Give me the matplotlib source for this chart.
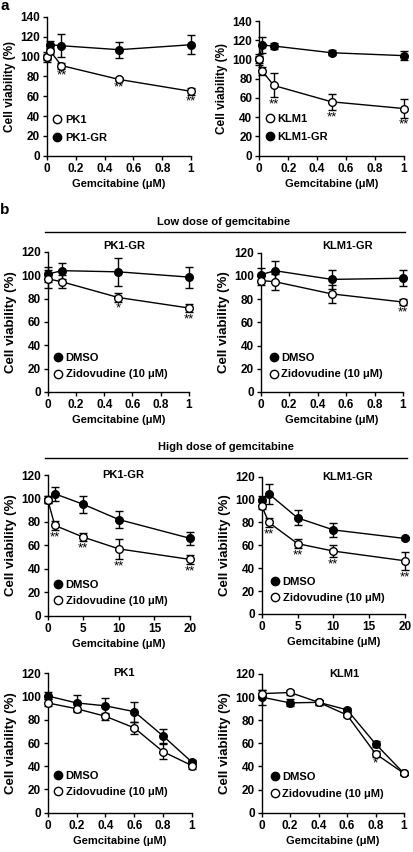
import matplotlib
matplotlib.use("Agg")
import matplotlib.pyplot as plt
from matplotlib.lines import Line2D

plt.rcParams['font.family'] = ['Liberation Sans', 'DejaVu Sans']
plt.rcParams['font.weight'] = 'bold'
plt.rcParams['font.size'] = 8

W, H = 413, 852

# ---------------- data ----------------
# Panel a
a_x = [0, 0.02, 0.1, 0.5, 1]
a1_open = [100, 106, 91, 77, 65]          # PK1
a1_open_err = [3, 3, 3, 1.5, 3.5]
a1_fill = [100, 112, 111, 107, 112]       # PK1-GR
a1_fill_err = [5, 4, 11.5, 8, 9.5]
a1_stars = ['', '', '**', '**', '**']

a2_open = [100, 88, 73, 56, 49]           # KLM1
a2_open_err = [6, 4, 12.5, 8.5, 9.5]
a2_fill = [100, 115, 114, 107, 104]       # KLM1-GR
a2_fill_err = [4, 8, 3, 2.5, 5]
a2_stars = ['', '', '**', '**', '**']

# Panel b - low dose
low_x = [0, 0.1, 0.5, 1]
b1_dmso = [101, 104, 103, 98.5]
b1_dmso_err = [6.5, 7, 12, 9]
b1_zdv = [97, 94.5, 81, 72]
b1_zdv_err = [8, 5.5, 3.5, 3.5]
b1_stars = ['', '', '*', '**']

b2_dmso = [101, 104.5, 97, 98]
b2_dmso_err = [6, 8.5, 8.5, 7]
b2_zdv = [96, 95, 84.5, 77.5]
b2_zdv_err = [4, 7, 7.5, 2.5]
b2_stars = ['', '', '', '**']

# Panel b - high dose
high_x = [0, 1, 5, 10, 20]
c1_dmso = [99, 104, 95, 82, 66]
c1_dmso_err = [3, 6, 7, 7.5, 5.5]
c1_zdv = [99, 77, 67, 57, 48]
c1_zdv_err = [3, 4, 3.5, 8.5, 4]
c1_stars = ['', '**', '**', '**', '**']

c2_dmso = [99.5, 105, 84, 73.5, 66]
c2_dmso_err = [4, 8.5, 6.5, 6, 1.5]
c2_zdv = [94.5, 80, 61.5, 55, 46.5]
c2_zdv_err = [3, 4, 4, 5.5, 8]
c2_stars = ['', '**', '**', '**', '**']

# Panel b - parental
par_x = [0, 0.2, 0.4, 0.6, 0.8, 1]
d1_dmso = [100.5, 94.5, 92, 87, 66, 43.5]
d1_dmso_err = [3, 7, 7, 8.5, 6, 2]
d1_zdv = [94.5, 89.5, 83, 73, 52.5, 40.5]
d1_zdv_err = [3, 3, 3, 5, 6.5, 3]

d2_dmso = [100, 95, 95.5, 89, 59.5, 34]
d2_dmso_err = [6.5, 3, 2, 2, 2.5, 1.5]
d2_zdv = [103, 104, 95.5, 84.5, 51, 34]
d2_zdv_err = [3, 2, 2, 2, 2.5, 1.5]
d2_stars = ['', '', '', '', '*', '']

fig = plt.figure(figsize=(W / 100, H / 100), dpi=100)


def make_ax(x0, x1, ytop, ybot):
    return fig.add_axes([x0 / W, 1 - ybot / H, (x1 - x0) / W, (ybot - ytop) / H])


def style(ax, xlim, xticks, xticklabels, ylim, yticks, ylab_size=8):
    ax.set_xlim(*xlim)
    ax.set_ylim(*ylim)
    ax.set_xticks(xticks)
    ax.set_xticklabels(xticklabels)
    ax.set_yticks(yticks)
    for s in ['top', 'right']:
        ax.spines[s].set_visible(False)
    for s in ['left', 'bottom']:
        ax.spines[s].set_linewidth(1.0)
    ax.tick_params(direction='out', length=3, width=1.0, labelsize=8.5, pad=2)
    for lab in ax.get_xticklabels() + ax.get_yticklabels():
        lab.set_fontweight('bold')
    ax.set_ylabel('Cell viability (%)', fontsize=ylab_size, fontweight='bold', labelpad=3)
    ax.set_xlabel('Gemcitabine (\u03bcM)', fontsize=8, fontweight='bold', labelpad=3)


def series(ax, x, y, e, filled, z):
    ax.errorbar(x, y, yerr=e, color='black', lw=1.0, elinewidth=1.0, capsize=3,
                capthick=1.0, marker='o', ms=5.5, mew=1.0,
                mfc='black' if filled else 'white', mec='black',
                clip_on=False, zorder=z)


def stars(ax, x, y, e, s, off):
    for xi, yi, ei, si in zip(x, y, e, s):
        if si:
            ax.text(xi, yi - ei - off, si, ha='center', va='top', fontsize=9.5,
                    fontweight='normal')


def legend(ax, labels, first_filled, anchor, spacing):
    fills = ['black', 'white'] if first_filled else ['white', 'black']
    hs = [Line2D([], [], ls='none', marker='o', ms=6, mew=1.0, mec='black', mfc=f)
          for f in fills]
    ax.legend(hs, labels, loc='lower left', bbox_to_anchor=anchor, frameon=False,
              handlelength=0.8, handletextpad=0.3, borderpad=0, borderaxespad=0,
              labelspacing=spacing, prop={'weight': 'bold', 'size': 8})


T1 = [0, 0.2, 0.4, 0.6, 0.8, 1]
T1L = ['0', '0.2', '0.4', '0.6', '0.8', '1']

# ---- Panel a left ----
ax = make_ax(47, 191, 17, 155.7)
series(ax, a_x, a1_fill, a1_fill_err, True, 3)
series(ax, a_x, a1_open, a1_open_err, False, 4)
stars(ax, a_x, a1_open, a1_open_err, a1_stars, 1)
style(ax, (0, 1), T1, T1L, (0, 140), range(0, 141, 20), 8.5)
legend(ax, ['PK1', 'PK1-GR'], False, (0.04, 0.09), 0.75)

# ---- Panel a right ----
ax = make_ax(259.3, 404, 21, 155.7)
series(ax, a_x, a2_fill, a2_fill_err, True, 3)
series(ax, a_x, a2_open, a2_open_err, False, 4)
stars(ax, a_x, a2_open, a2_open_err, a2_stars, 1)
style(ax, (0, 1), T1, T1L, (0, 140), range(0, 141, 20), 8.5)
legend(ax, ['KLM1', 'KLM1-GR'], False, (0.04, 0.10), 0.75)

YB = 9.5

# ---- Low dose ----
ax = make_ax(47.7, 189, 252, 392)
series(ax, low_x, b1_dmso, b1_dmso_err, True, 3)
series(ax, low_x, b1_zdv, b1_zdv_err, False, 4)
stars(ax, low_x, b1_zdv, b1_zdv_err, b1_stars, 1)
style(ax, (0, 1), T1, T1L, (0, 120), range(0, 121, 20), YB)
ax.text(0.54, 1.04, 'PK1-GR', transform=ax.transAxes, ha='center', va='center',
        fontsize=8, fontweight='bold')
legend(ax, ['DMSO', 'Zidovudine (10 \u03bcM)'], True, (0.04, 0.09), 0.55)

ax = make_ax(260.7, 403, 252.7, 392)
series(ax, low_x, b2_dmso, b2_dmso_err, True, 3)
series(ax, low_x, b2_zdv, b2_zdv_err, False, 4)
stars(ax, low_x, b2_zdv, b2_zdv_err, b2_stars, 1)
style(ax, (0, 1), T1, T1L, (0, 120), range(0, 121, 20), YB)
ax.text(0.61, 1.045, 'KLM1-GR', transform=ax.transAxes, ha='center', va='center',
        fontsize=8, fontweight='bold')
legend(ax, ['DMSO', 'Zidovudine (10 \u03bcM)'], True, (0.06, 0.09), 0.55)

# ---- High dose ----
ax = make_ax(47.7, 190, 475, 615.7)
series(ax, high_x, c1_dmso, c1_dmso_err, True, 3)
series(ax, high_x, c1_zdv, c1_zdv_err, False, 4)
stars(ax, high_x, c1_zdv, c1_zdv_err, c1_stars, 1)
style(ax, (0, 20), [0, 5, 10, 15, 20], ['0', '5', '10', '15', '20'],
      (0, 120), range(0, 121, 20), YB)
ax.text(0.53, 1.0, 'PK1-GR', transform=ax.transAxes, ha='center', va='center',
        fontsize=8, fontweight='bold')
legend(ax, ['DMSO', 'Zidovudine (10 \u03bcM)'], True, (0.04, 0.07), 0.55)

ax = make_ax(261.7, 405, 476.7, 614)
series(ax, high_x, c2_dmso, c2_dmso_err, True, 3)
series(ax, high_x, c2_zdv, c2_zdv_err, False, 4)
stars(ax, high_x, c2_zdv, c2_zdv_err, c2_stars, 1)
style(ax, (0, 20), [0, 5, 10, 15, 20], ['0', '5', '10', '15', '20'],
      (0, 120), range(0, 121, 20), YB)
ax.text(0.60, 0.995, 'KLM1-GR', transform=ax.transAxes, ha='center', va='center',
        fontsize=8, fontweight='bold')
legend(ax, ['DMSO', 'Zidovudine (10 \u03bcM)'], True, (0.06, 0.08), 0.55)

# ---- Parental ----
ax = make_ax(47.7, 192, 673.3, 812.7)
series(ax, par_x, d1_dmso, d1_dmso_err, True, 3)
series(ax, par_x, d1_zdv, d1_zdv_err, False, 4)
style(ax, (0, 1), T1, T1L, (0, 120), range(0, 121, 20), YB)
ax.text(0.53, 1.0, 'PK1', transform=ax.transAxes, ha='center', va='center',
        fontsize=8, fontweight='bold')
legend(ax, ['DMSO', 'Zidovudine (10 \u03bcM)'], True, (0.04, 0.11), 0.6)

ax = make_ax(261.7, 404, 674, 812.7)
series(ax, par_x, d2_dmso, d2_dmso_err, True, 3)
series(ax, par_x, d2_zdv, d2_zdv_err, False, 4)
stars(ax, par_x, d2_zdv, d2_zdv_err, d2_stars, 1)
style(ax, (0, 1), T1, T1L, (0, 120), range(0, 121, 20), YB)
ax.text(0.58, 1.0, 'KLM1', transform=ax.transAxes, ha='center', va='center',
        fontsize=8, fontweight='bold')
legend(ax, ['DMSO', 'Zidovudine (10 \u03bcM)'], True, (0.06, 0.10), 0.6)

# ---- headers ----
fig.text(5 / W, 1 - 6 / H, 'a', ha='center', va='center', fontsize=11, fontweight='bold')
fig.text(5 / W, 1 - 210 / H, 'b', ha='center', va='center', fontsize=11, fontweight='bold')
fig.text(224 / W, 1 - 222 / H, 'Low dose of gemcitabine', ha='center', va='center',
         fontsize=8, fontweight='bold')
fig.add_artist(Line2D([45 / W, 405 / W], [1 - 232 / H, 1 - 232 / H], color='black', lw=1.0))
fig.text(226 / W, 1 - 447 / H, 'High dose of gemcitabine', ha='center', va='center',
         fontsize=8, fontweight='bold')
fig.add_artist(Line2D([45 / W, 407 / W], [1 - 458 / H, 1 - 458 / H], color='black', lw=1.0))

fig.savefig('out.png', dpi=100)
